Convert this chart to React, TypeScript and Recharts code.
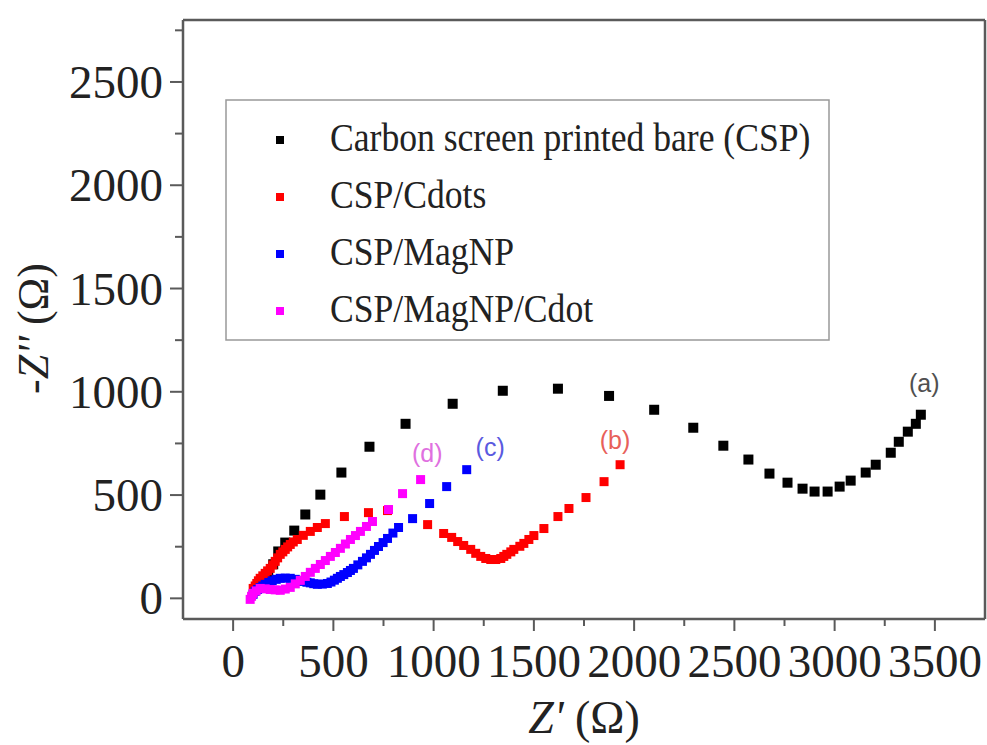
import React from 'react';
import {
  ScatterChart,
  Scatter,
  XAxis,
  YAxis,
  Legend,
  ReferenceLine,
  ReferenceDot,
} from 'recharts';

// Nyquist data, [Z', -Z''] in ohm
const bareCSP = [
  [150, 60], [175, 110], [200, 165], [225, 227], [260, 270], [305, 328], [360, 406],
  [435, 502], [540, 609], [680, 734], [860, 845], [1095, 942], [1345, 1005],
  [1620, 1015], [1875, 980], [2100, 913], [2295, 826], [2445, 739], [2570, 672],
  [2675, 604], [2765, 560], [2840, 531], [2900, 517], [2965, 517], [3025, 541],
  [3080, 570], [3155, 609], [3205, 647], [3280, 705], [3320, 758], [3365, 807],
  [3405, 845], [3430, 889],
];

const cspCdots = [
  [100, 48], [110, 60], [118, 72], [126, 85], [135, 97], [148, 109], [160, 121],
  [172, 133], [185, 145], [198, 162], [210, 179], [222, 196], [235, 213], [248, 225],
  [260, 237], [272, 249], [285, 261], [300, 273], [320, 285], [350, 305], [385, 324],
  [420, 343], [460, 362], [555, 396], [675, 415], [770, 425], [970, 357], [1050, 314],
  [1090, 295], [1120, 275], [1150, 256], [1185, 237], [1210, 218], [1235, 203],
  [1260, 193], [1285, 188], [1310, 188], [1335, 193], [1350, 203], [1365, 213],
  [1385, 225], [1400, 237], [1430, 252], [1450, 266], [1475, 285], [1500, 304],
  [1550, 338], [1620, 396], [1675, 435], [1760, 488], [1850, 565], [1930, 647],
];

const cspMagNP = [
  [100, 20], [110, 34], [122, 43], [135, 52], [148, 60], [160, 68], [178, 77],
  [195, 85], [215, 92], [235, 97], [260, 98], [285, 97], [310, 92], [330, 87],
  [350, 82], [368, 78], [385, 75], [402, 71], [420, 68], [445, 69], [470, 72],
  [488, 79], [505, 88], [520, 97], [535, 106], [552, 115], [570, 125], [585, 135],
  [600, 145], [622, 162], [645, 179], [665, 196], [685, 213], [705, 232], [725, 251],
  [748, 270], [770, 290], [797, 316], [825, 343], [895, 386], [980, 459],
  [1065, 541], [1165, 623],
];

const cspMagNPCdot = [
  [85, -5], [92, 10], [100, 24], [115, 36], [135, 48], [160, 46], [185, 43],
  [210, 41], [235, 39], [260, 45], [285, 53], [310, 70], [335, 87], [360, 106],
  [385, 126], [410, 145], [435, 164], [460, 183], [485, 203], [510, 222], [535, 242],
  [560, 263], [585, 285], [610, 304], [635, 324], [665, 348], [695, 372], [775, 430],
  [845, 507], [935, 575],
];

const seriesNames = [
  'Carbon screen printed bare (CSP)',
  'CSP/Cdots',
  'CSP/MagNP',
  'CSP/MagNP/Cdot',
];
const seriesColors = ['#000000', '#ff0000', '#0000ff', '#ff00ff'];
const seriesData = [bareCSP, cspCdots, cspMagNP, cspMagNPCdot];
const markerSizes = [10, 9, 9, 9];

const xTicks = [0, 250, 500, 750, 1000, 1250, 1500, 1750, 2000, 2250, 2500, 2750, 3000, 3250, 3500];
const yTicks = [0, 250, 500, 750, 1000, 1250, 1500, 1750, 2000, 2250, 2500, 2750];

// curve tags (a)-(d)
const tags = [
  { x: 3447, y: 1042, text: '(a)', color: '#505050' },
  { x: 1905, y: 766, text: '(b)', color: '#e8605a' },
  { x: 1282, y: 732, text: '(c)', color: '#5a5ae0' },
  { x: 968, y: 703, text: '(d)', color: '#e070e0' },
];

const SERIF = '"Liberation Serif", "Times New Roman", serif';
const AXIS = '#5a5a5a';

const toPoints = (arr: number[][]) => arr.map(([x, y]) => ({ x, y }));

const YTick = (props: any) => {
  const { x, y, payload } = props;
  const major = payload.value % 500 === 0;
  const ax = x + 20;
  return (
    <g>
      <line x1={ax - (major ? 13 : 8)} x2={ax} y1={y} y2={y} stroke={AXIS} strokeWidth={2} />
      {major && (
        <text x={x} y={y + 16} textAnchor="end" fontSize={47} fontFamily={SERIF} fill="#222">
          {payload.value}
        </text>
      )}
    </g>
  );
};

const XTick = (props: any) => {
  const { x, y, payload } = props;
  const major = payload.value % 500 === 0;
  const ay = y - 12;
  return (
    <g>
      <line x1={x} x2={x} y1={ay} y2={ay + (major ? 12 : 7)} stroke={AXIS} strokeWidth={2} />
      {major && (
        <text x={x} y={ay + 58} textAnchor="middle" fontSize={47} fontFamily={SERIF} fill="#222">
          {payload.value}
        </text>
      )}
    </g>
  );
};

const LegendBox = () => (
  <svg width={605} height={242}>
    <rect x={1} y={1} width={603} height={240} fill="#fff" stroke="#999" strokeWidth={1.5} />
    {seriesNames.map((name, i) => {
      const cy = 41 + i * 57;
      return (
        <g key={name}>
          <rect x={51} y={cy - 4} width={8} height={8} fill={seriesColors[i]} />
          <text
            transform={`translate(105, ${cy + 11}) scale(0.89, 1)`}
            fontSize={40}
            fontFamily={SERIF}
            fill="#222"
          >
            {name}
          </text>
        </g>
      );
    })}
  </svg>
);

const App = () => {
  return (
    <div style={{ position: 'absolute', left: 0, top: 0, width: 987, height: 745, background: '#fff' }}>
      <ScatterChart width={987} height={745} margin={{ top: 20, right: 2, bottom: 0, left: 0 }}>
        <XAxis
          type="number"
          dataKey="x"
          domain={[-250, 3750]}
          ticks={xTicks}
          interval={0}
          height={126}
          tickSize={12}
          tickMargin={0}
          tickLine={false}
          tick={<XTick />}
          axisLine={{ stroke: AXIS, strokeWidth: 2.5 }}
          label={{
            content: (p: any) => {
              const vb = p.viewBox;
              return (
                <text x={vb.x + vb.width / 2} y={vb.y + 114} textAnchor="middle" fontSize={46} fontFamily={SERIF} fill="#222">
                  <tspan fontStyle="italic">Z'</tspan> (Ω)
                </text>
              );
            },
          }}
        />
        <YAxis
          type="number"
          dataKey="y"
          domain={[-100, 2800]}
          ticks={yTicks}
          interval={0}
          width={183}
          tickSize={13}
          tickMargin={7}
          tickLine={false}
          tick={<YTick />}
          axisLine={{ stroke: AXIS, strokeWidth: 2.5 }}
          label={{
            content: (p: any) => {
              const vb = p.viewBox;
              const cx = vb.x + 33;
              const cy = vb.y + vb.height / 2 + 9;
              return (
                <text
                  x={cx}
                  y={cy}
                  transform={`rotate(-90, ${cx}, ${cy})`}
                  textAnchor="middle"
                  dominantBaseline="central"
                  fontSize={44}
                  fontFamily={SERIF}
                  fill="#222"
                >
                  -<tspan fontStyle="italic">Z''</tspan> (Ω)
                </text>
              );
            },
          }}
        />
        <ReferenceLine y={2800} stroke={AXIS} strokeWidth={2.5} />
        <ReferenceLine x={3750} stroke={AXIS} strokeWidth={2.5} />
        <Legend
          layout="vertical"
          align="center"
          verticalAlign="middle"
          content={<LegendBox />}
          wrapperStyle={{ left: 225, top: 99, width: 605, height: 242 }}
        />
        {seriesData.map((d, i) => (
          <Scatter
            key={seriesNames[i]}
            name={seriesNames[i]}
            data={toPoints(d)}
            fill={seriesColors[i]}
            isAnimationActive={false}
            shape={(p: any) => {
              const s = markerSizes[i];
              return <rect x={p.cx - s / 2} y={p.cy - s / 2} width={s} height={s} fill={seriesColors[i]} />;
            }}
          />
        ))}
        {tags.map((t) => (
          <ReferenceDot
            key={t.text}
            x={t.x}
            y={t.y}
            r={0}
            shape={(p: any) => (
              <text
                x={p.cx}
                y={p.cy}
                textAnchor="middle"
                dominantBaseline="central"
                fontSize={25}
                fontFamily='"Liberation Sans", Arial, sans-serif'
                fill={t.color}
              >
                {t.text}
              </text>
            )}
          />
        ))}
      </ScatterChart>
    </div>
  );
};

export default App;
